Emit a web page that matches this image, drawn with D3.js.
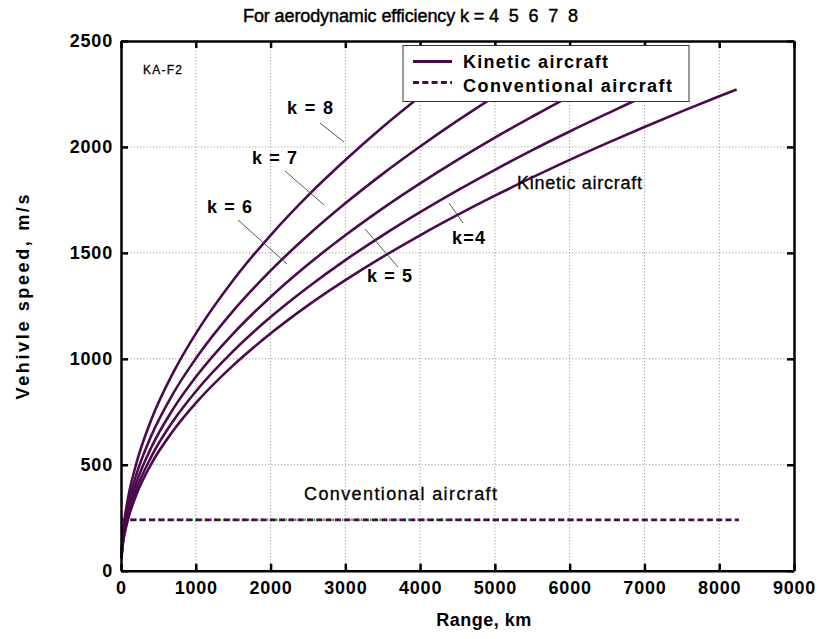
<!DOCTYPE html>
<html><head><meta charset="utf-8">
<script src="https://cdn.jsdelivr.net/npm/d3@7"></script>
<style>
html,body{margin:0;padding:0;background:#fff;}
svg text{font-family:"Liberation Sans",Arial,sans-serif;}
</style></head>
<body><svg id="c" width="819" height="639"></svg>
<script>
// ---- data ----
const xTicks = [0,1000,2000,3000,4000,5000,6000,7000,8000,9000];
const yTicks = [0,500,1000,1500,2000,2500];

const rangeK4 = [5,25,50,100,200,400,700,1000,1500,2000,2500,3000,3500,4000,4500,5000,5500,6000,6500,7000,7500,8000,8233];
const speedK4 = [56,125,177,250,354,501,662,791,969,1119,1252,1371,1481,1583,1679,1770,1856,1939,2018,2094,2168,2239,2271];
const rangeK5 = [5,25,50,100,200,400,700,1000,1500,2000,2500,3000,3500,4000,4500,5000,5500,6000,6500,7000,7204];
const speedK5 = [60,134,189,268,378,535,708,846,1036,1197,1338,1466,1583,1692,1795,1892,1985,2073,2157,2239,2271];
const rangeK6 = [5,25,50,100,200,400,700,1000,1500,2000,2500,3000,3500,4000,4500,5000,5500,6000,6175];
const speedK6 = [65,145,204,289,409,578,765,914,1119,1292,1445,1583,1710,1828,1939,2044,2143,2239,2271];
const rangeK7 = [5,25,50,100,200,400,700,1000,1500,2000,2500,3000,3500,4000,4500,5000,5146];
const speedK7 = [71,158,224,317,448,633,838,1001,1226,1416,1583,1734,1873,2002,2124,2239,2271];
const rangeK8 = [5,25,50,100,200,400,700,1000,1500,2000,2500,3000,3500,4000,4117];
const speedK8 = [79,177,250,354,500,708,936,1119,1371,1583,1770,1938,2094,2238,2271];

const rangeConv = [0,8264];
const speedConv = [240,240];
const rangeConvGreen = [0,6100];
const speedConvGreen = [240,240];

const kineticSeries = [
  {k:4, r:rangeK4, v:speedK4},
  {k:5, r:rangeK5, v:speedK5},
  {k:6, r:rangeK6, v:speedK6},
  {k:7, r:rangeK7, v:speedK7},
  {k:8, r:rangeK8, v:speedK8}
];

// ---- layout ----
const purple = "#4b0a4b";
const green = "#2a9a2a";
const svg = d3.select("#c");
const L = 121, R = 794, T = 41, B = 570.7;
const x = d3.scaleLinear().domain([0,9000]).range([L,R]);
const y = d3.scaleLinear().domain([0,2500]).range([B,T]);

// grid
const grid = svg.append("g").attr("stroke","#8a8a8a").attr("stroke-width",1).attr("stroke-dasharray","1,2.2");
xTicks.slice(1,-1).forEach(t=>grid.append("line").attr("x1",x(t)).attr("x2",x(t)).attr("y1",T).attr("y2",B));
yTicks.slice(1,-1).forEach(t=>grid.append("line").attr("x1",L).attr("x2",R).attr("y1",y(t)).attr("y2",y(t)));

// conventional lines
const line = d3.line().x(d=>x(d[0])).y(d=>y(d[1]));
svg.append("path").datum(d3.zip(rangeConvGreen,speedConvGreen)).attr("d",line)
  .attr("fill","none").attr("stroke",green).attr("stroke-width",2.5).attr("stroke-dasharray","1.5,3.2");
svg.append("path").datum(d3.zip(rangeConv,speedConv)).attr("d",line)
  .attr("fill","none").attr("stroke",purple).attr("stroke-width",2.8).attr("stroke-dasharray","6,3.3");

// kinetic curves
const curveLine = d3.line().x(d=>x(d[0])).y(d=>y(d[1])).curve(d3.curveMonotoneX);
svg.append("g").selectAll("path").data(kineticSeries).join("path")
  .attr("d",s=>curveLine(d3.zip(s.r,s.v)))
  .attr("fill","none").attr("stroke",purple).attr("stroke-width",2.6);

// axes box (MATLAB style, ticks inside on all sides)
const axG = svg.append("g");
axG.append("g").attr("transform",`translate(0,${B})`)
  .call(d3.axisBottom(x).tickValues(xTicks).tickSizeInner(-7).tickSizeOuter(0).tickPadding(11).tickFormat(d3.format("d")));
axG.append("g").attr("transform",`translate(${L},0)`)
  .call(d3.axisLeft(y).tickValues(yTicks).tickSizeInner(-7).tickSizeOuter(0).tickPadding(8).tickFormat(d3.format("d")));
axG.append("g").attr("transform",`translate(0,${T})`)
  .call(d3.axisTop(x).tickValues(xTicks).tickSizeInner(-7).tickSizeOuter(0).tickFormat(""));
axG.append("g").attr("transform",`translate(${R},0)`)
  .call(d3.axisRight(y).tickValues(yTicks).tickSizeInner(-7).tickSizeOuter(0).tickFormat(""));
axG.selectAll(".domain").attr("stroke","#000").attr("stroke-width",2.5);
axG.selectAll(".tick line").attr("stroke","#000").attr("stroke-width",2.5);
axG.selectAll(".tick text").attr("fill","#000").attr("font-size",18).attr("font-weight","bold")
  .attr("font-family","'Liberation Sans',Arial,sans-serif").style("letter-spacing","0.8px");

// legend
const lg = svg.append("g");
lg.append("rect").attr("x",403).attr("y",45.5).attr("width",286).attr("height",56)
  .attr("fill","#fff").attr("stroke","#333").attr("stroke-width",1);
lg.append("line").attr("x1",413).attr("x2",452).attr("y1",61.5).attr("y2",61.5).attr("stroke",purple).attr("stroke-width",2.8);
lg.append("line").attr("x1",413).attr("x2",452).attr("y1",82.5).attr("y2",82.5).attr("stroke",purple).attr("stroke-width",2.8).attr("stroke-dasharray","6,3.3");
lg.append("text").attr("x",463).attr("y",68).attr("font-size",18).attr("font-weight","bold").attr("textLength",145).attr("lengthAdjust","spacing").text("Kinetic aircraft");
lg.append("text").attr("x",463).attr("y",92).attr("font-size",18).attr("font-weight","bold").attr("textLength",209).attr("lengthAdjust","spacing").text("Conventional aircraft");

// annotations
const ann = svg.append("g");
function label(t, tx, ty, bold, len, size){
  const e = ann.append("text").attr("x",tx).attr("y",ty).attr("font-size",size||18)
    .attr("font-weight",bold?"bold":"normal").style("white-space","pre").text(t);
  if(!bold) e.attr("stroke","#000").attr("stroke-width",0.3);
  if(len) e.attr("textLength",len).attr("lengthAdjust","spacing");
  return e;
}
function pointer(x1,y1,x2,y2){
  ann.append("line").attr("x1",x1).attr("y1",y1).attr("x2",x2).attr("y2",y2).attr("stroke","#444").attr("stroke-width",0.9);
}
label("KA-F2",143,74,false,39,12);
label("k = 8",287,114,true,46);
pointer(320,123,344,142);
label("k = 7",252,164,true,45);
pointer(285,171,324,205);
label("k = 6",207,213,true,45);
pointer(238,220,287,264);
label("k = 5",367,282,true,45);
pointer(365,229,398,267);
label("k=4",452,244,true,33);
pointer(449,203,463,223);
label("Kinetic aircraft",517,189,false,125);
label("Conventional aircraft",304,500,false,193);

// titles
svg.append("text").attr("x",410.5).attr("y",22).attr("text-anchor","middle").attr("font-size",18)
  .attr("stroke","#000").attr("stroke-width",0.45)
  .attr("textLength",335).attr("lengthAdjust","spacing").style("white-space","pre")
  .text("For aerodynamic efficiency k = 4  5  6  7  8");
svg.append("text").attr("x",484).attr("y",626).attr("text-anchor","middle").attr("font-size",18)
  .attr("font-weight","bold").style("letter-spacing","0.5px").text("Range, km");
svg.append("text").attr("transform","translate(29,297) rotate(-90)").attr("text-anchor","middle")
  .attr("font-size",18).attr("font-weight","bold").attr("textLength",205).attr("lengthAdjust","spacing")
  .text("Vehivle speed, m/s");
</script></body></html>
